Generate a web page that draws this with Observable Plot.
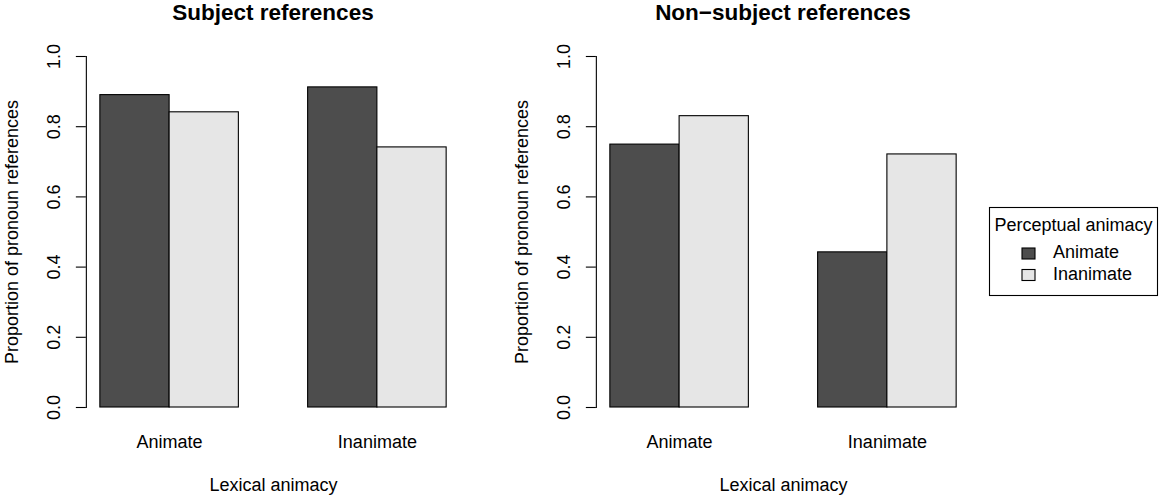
<!DOCTYPE html>
<html>
<head>
<meta charset="utf-8">
<script src="https://cdn.jsdelivr.net/npm/d3@7"></script>
<script src="https://cdn.jsdelivr.net/npm/@observablehq/plot@0.6"></script>
<style>
  body { margin: 0; background: #fff; }
  #wrap { position: relative; width: 1159px; height: 496px; overflow: hidden; background: #fff;
          font-family: "Liberation Sans", Arial, Helvetica, sans-serif; color: #000; }
  .panel { position: absolute; top: 0; }
  .title { position: absolute; top: 2px; width: 500px; text-align: center; font-weight: bold;
           font-size: 22.5px; line-height: 1; white-space: nowrap; }
  #legend { position: absolute; left: 0; top: 0; }
</style>
</head>
<body>
<div id="wrap"></div>
<script>
// ---- data ----
const panelTitles = ["Subject references", "Non\u2212subject references"];
const lexicalCategories = ["Animate", "Inanimate"];      // x groups (Lexical animacy)
const perceptualCategories = ["Animate", "Inanimate"];   // bars within group (Perceptual animacy)
// values per perceptual series, across lexical categories
const subjectPerceptualAnimate = [0.890, 0.912];
const subjectPerceptualInanimate = [0.841, 0.741];
const nonSubjectPerceptualAnimate = [0.749, 0.442];
const nonSubjectPerceptualInanimate = [0.830, 0.721];
const yTicks = [0, 0.2, 0.4, 0.6, 0.8, 1.0];
const fills = ["#4D4D4D", "#E6E6E6"];
const yLabel = "Proportion of pronoun references";
const xLabel = "Lexical animacy";
const legendTitle = "Perceptual animacy";

function rowsFor(seriesA, seriesI) {
  const rows = [];
  lexicalCategories.forEach((lex, i) => {
    rows.push({lexical: lex, perceptual: perceptualCategories[0], value: seriesA[i]});
    rows.push({lexical: lex, perceptual: perceptualCategories[1], value: seriesI[i]});
  });
  return rows;
}

const panelsData = [
  rowsFor(subjectPerceptualAnimate, subjectPerceptualInanimate),
  rowsFor(nonSubjectPerceptualAnimate, nonSubjectPerceptualInanimate)
];
const panelLefts = [0, 510];

const wrap = document.getElementById("wrap");

function makePanel(rows) {
  return Plot.plot({
    width: 500,
    height: 496,
    marginLeft: 86,
    marginRight: 40,
    marginTop: 56,
    marginBottom: 89,
    style: {fontFamily: "'Liberation Sans', Arial, Helvetica, sans-serif", fontSize: "18px",
            color: "#000", background: "transparent", overflow: "visible"},
    fx: {domain: lexicalCategories, paddingInner: 1/3, paddingOuter: 1/15, round: false},
    x: {domain: perceptualCategories, padding: 0, round: false, axis: null},
    y: {domain: [0, 1], axis: null},
    color: {domain: perceptualCategories, range: fills},
    marks: [
      Plot.barY(rows, {fx: "lexical", x: "perceptual", y: "value", fill: "perceptual",
                       stroke: "#000", strokeWidth: 1.1}),
      Plot.axisY({ticks: yTicks, tickFormat: d3.format(".1f"), tickSize: 10, tickRotate: -90,
                  tickPadding: 16, dx: -14, stroke: "#000", strokeWidth: 1.1,
                  label: yLabel, labelAnchor: "center", labelOffset: 95, labelArrow: "none"}),
      Plot.frame({anchor: "left", dx: -14, facetAnchor: "left", stroke: "#000", strokeWidth: 1.1}),
      Plot.axisFx({anchor: "bottom", tickSize: 0, tickPadding: 28,
                   label: xLabel, labelAnchor: "center", labelOffset: 83, labelArrow: "none"})
    ]
  });
}

panelsData.forEach((rows, k) => {
  const div = document.createElement("div");
  div.className = "panel";
  div.style.left = panelLefts[k] + "px";
  div.appendChild(makePanel(rows));
  wrap.appendChild(div);
  const t = document.createElement("div");
  t.className = "title";
  t.style.left = (panelLefts[k] + 23) + "px";
  t.textContent = panelTitles[k];
  wrap.appendChild(t);
});

// legend
const svg = d3.select(wrap).append("svg").attr("id", "legend").attr("width", 1159).attr("height", 496)
  .style("font-family", "'Liberation Sans', Arial, Helvetica, sans-serif").style("font-size", "18px");
const lg = svg.append("g");
lg.append("rect").attr("x", 989.5).attr("y", 207.5).attr("width", 168).attr("height", 88)
  .attr("fill", "#fff").attr("stroke", "#000").attr("stroke-width", 1.1);
lg.append("text").attr("x", 994.5).attr("y", 231).text(legendTitle);
perceptualCategories.forEach((c, i) => {
  lg.append("rect").attr("x", 1022).attr("y", 248 + i * 21.5).attr("width", 13).attr("height", 11)
    .attr("fill", fills[i]).attr("stroke", "#000").attr("stroke-width", 1.1);
  lg.append("text").attr("x", 1053).attr("y", 258 + i * 21.5).text(c);
});
</script>
</body>
</html>
